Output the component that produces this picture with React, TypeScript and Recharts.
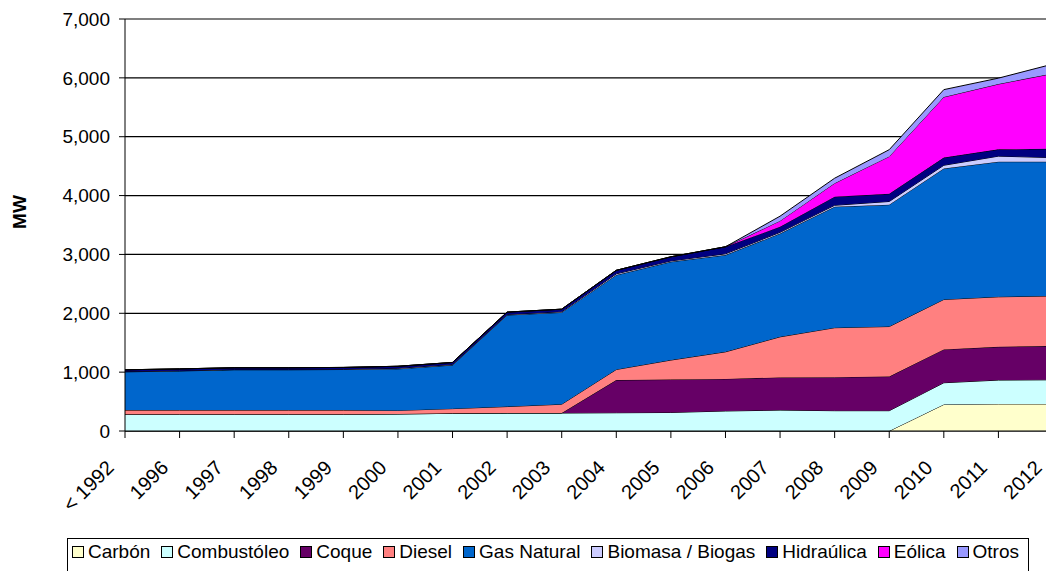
import React from 'react';
import { AreaChart, Area, XAxis, YAxis, CartesianGrid, Legend, Label } from 'recharts';

const years = [
  '< 1992', '1996', '1997', '1998', '1999', '2000', '2001', '2002', '2003',
  '2004', '2005', '2006', '2007', '2008', '2009', '2010', '2011', '2012',
];

// capacidad instalada por fuente, MW
const carbon = [0, 0, 0, 0, 0, 0, 0, 0, 0, 0, 0, 0, 0, 0, 0, 450, 460, 460];
const combustoleo = [285, 285, 285, 285, 285, 290, 300, 305, 305, 310, 315, 340, 355, 345, 345, 370, 405, 410];
const coque = [0, 0, 0, 0, 0, 0, 0, 0, 0, 555, 560, 545, 555, 570, 580, 565, 565, 575];
const diesel = [70, 70, 70, 70, 70, 60, 80, 110, 150, 180, 330, 460, 690, 840, 850, 850, 850, 850];
const gasNatural = [650, 665, 685, 685, 690, 705, 740, 1555, 1560, 1605, 1670, 1645, 1755, 2055, 2070, 2225, 2295, 2280];
const biomasa = [5, 5, 5, 5, 5, 10, 10, 10, 10, 20, 15, 20, 20, 25, 55, 55, 95, 70];
const hidraulica = [30, 30, 30, 30, 30, 35, 35, 40, 45, 60, 70, 120, 95, 145, 130, 130, 115, 150];
const eolica = [0, 0, 0, 0, 0, 0, 0, 0, 0, 0, 0, 0, 100, 230, 635, 1030, 1110, 1280];
const otros = [0, 0, 0, 0, 0, 0, 0, 0, 0, 0, 0, 0, 80, 85, 115, 125, 100, 160];

const yTicks = [0, 1000, 2000, 3000, 4000, 5000, 6000, 7000];

const series = [
  { key: 'carbon', name: 'Carbón', color: '#FFFFCC', values: carbon },
  { key: 'combustoleo', name: 'Combustóleo', color: '#CCFFFF', values: combustoleo },
  { key: 'coque', name: 'Coque', color: '#660066', values: coque },
  { key: 'diesel', name: 'Diesel', color: '#FF8080', values: diesel },
  { key: 'gas', name: 'Gas Natural', color: '#0066CC', values: gasNatural },
  { key: 'biomasa', name: 'Biomasa / Biogas', color: '#CCCCFF', values: biomasa },
  { key: 'hidraulica', name: 'Hidraúlica', color: '#000080', values: hidraulica },
  { key: 'eolica', name: 'Eólica', color: '#FF00FF', values: eolica },
  { key: 'otros', name: 'Otros', color: '#9999FF', values: otros },
];

const data = years.map((year, i) => {
  const row: Record<string, string | number> = { year };
  series.forEach((s) => {
    row[s.key] = s.values[i];
  });
  return row;
});

const FONT = 'Arial, "Liberation Sans", sans-serif';

const YearTick = ({ x, y, payload }: any) => (
  <g transform={`translate(${x - 10},${y + 29})`}>
    <text transform="rotate(-45)" textAnchor="end" fontSize={20} fontFamily={FONT} fill="#000">
      {payload.value}
    </text>
  </g>
);

const LegendBox = () => (
  <div
    style={{
      border: '1px solid #000',
      height: 40,
      boxSizing: 'border-box',
      display: 'flex',
      alignItems: 'flex-start',
      paddingTop: 2,
      paddingLeft: 4,
      gap: 11,
      fontFamily: FONT,
      fontSize: 19,
      color: '#000',
      whiteSpace: 'nowrap',
    }}
  >
    {series.map((s) => (
      <span key={s.key} style={{ display: 'flex', alignItems: 'center', gap: 4 }}>
        <span
          style={{
            display: 'inline-block',
            width: 10,
            height: 10,
            background: s.color,
            border: '1px solid #000',
          }}
        />
        {s.name}
      </span>
    ))}
  </div>
);

export default function App() {
  return (
    <div
      style={{
        position: 'absolute',
        left: 0,
        top: 0,
        width: 1046,
        height: 571,
        overflow: 'hidden',
        background: '#fff',
      }}
    >
      <AreaChart width={1060} height={571} data={data} margin={{ top: 19, right: 7, left: 0, bottom: 0 }}>
        <CartesianGrid vertical={false} stroke="#000" strokeWidth={1.2} />
        <XAxis
          dataKey="year"
          height={140}
          stroke="#000"
          tickSize={7}
          tickMargin={2}
          tick={<YearTick />}
          interval={0}
        />
        <YAxis
          width={125}
          domain={[0, 7000]}
          ticks={yTicks}
          stroke="#000"
          tickSize={6}
          tickMargin={9}
          tickFormatter={(v: number) => v.toLocaleString('en-US')}
          tick={{ fontSize: 19, fontFamily: FONT, fill: '#000' }}
          interval={0}
        >
          <Label
            content={() => (
              <text
                transform="translate(26,212) rotate(-90)"
                textAnchor="middle"
                fontSize={19}
                fontWeight="bold"
                fontFamily={FONT}
                fill="#000"
              >
                MW
              </text>
            )}
          />
        </YAxis>
        {series.map((s) => (
          <Area
            key={s.key}
            type="linear"
            dataKey={s.key}
            name={s.name}
            stackId="mw"
            fill={s.color}
            fillOpacity={1}
            stroke="#000"
            strokeWidth={1}
            isAnimationActive={false}
            dot={false}
            activeDot={false}
          />
        ))}
        <Legend
          layout="horizontal"
          verticalAlign="middle"
          align="center"
          content={<LegendBox />}
          wrapperStyle={{ left: 67, top: 538, width: 962, height: 40 }}
        />
      </AreaChart>
    </div>
  );
}
